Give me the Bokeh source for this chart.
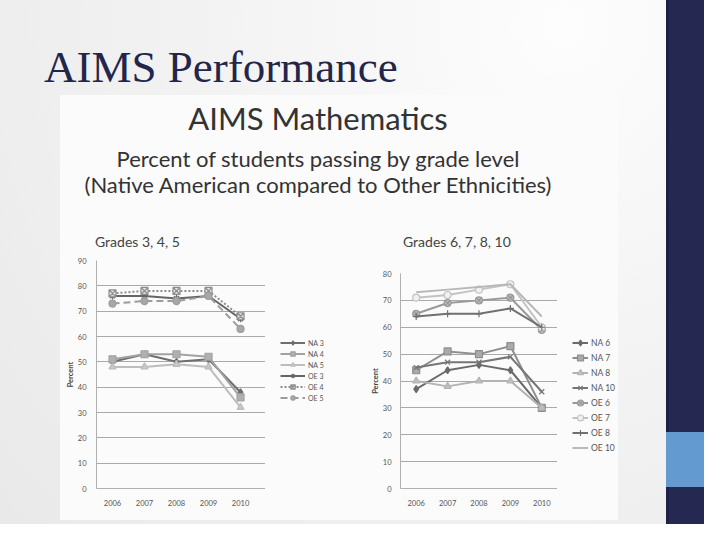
from bokeh.plotting import figure
from bokeh.models import Div, Spacer, Range1d, FixedTicker, Legend, LegendItem
from bokeh.layouts import row, column
from bokeh.embed import file_html
from bokeh.resources import INLINE

# ---------------- data ----------------
years = [2006, 2007, 2008, 2009, 2010]

# Grades 3, 4, 5
na3 = [50, 53, 50, 51, 38]
na4 = [51, 53, 53, 52, 36]
na5 = [48, 48, 49, 48, 32]
oe3 = [76, 76, 75, 76, 67]
oe4 = [77, 78, 78, 78, 68]
oe5 = [73, 74, 74, 76, 63]

# Grades 6, 7, 8, 10
na6 = [37, 44, 46, 44, 30]
na7 = [44, 51, 50, 53, 30]
na8 = [40, 38, 40, 40, 30]
na10 = [45, 47, 47, 49, 36]
oe6 = [65, 69, 70, 71, 59]
oe7 = [71, 72, 74, 76, 60]
oe8 = [64, 65, 65, 67, 60]
oe10 = [73, 74, 75, 76, 64]

left_labels = ["NA 3", "NA 4", "NA 5", "OE 3", "OE 4", "OE 5"]
right_labels = ["NA 6", "NA 7", "NA 8", "NA 10", "OE 6", "OE 7", "OE 8", "OE 10"]
left_ticks = [0, 10, 20, 30, 40, 50, 60, 70, 80, 90]
right_ticks = [0, 10, 20, 30, 40, 50, 60, 70, 80]

# styles: (color, dash, marker, fill)
left_styles = [
    ("#6e6e6e", "solid", "diamond", "#6e6e6e"),
    ("#a2a2a2", "solid", "square", "#b0b0b0"),
    ("#bdbdbd", "solid", "triangle", "#c8c8c8"),
    ("#666666", "solid", "asterisk", "#666666"),
    ("#8c8c8c", "2 2", "square_x", "#e0e0e0"),
    ("#9c9c9c", "7 4", "circle", "#a8a8a8"),
]
right_styles = [
    ("#6a6a6a", "solid", "diamond", "#6a6a6a"),
    ("#8e8e8e", "solid", "square", "#aaaaaa"),
    ("#b3b3b3", "solid", "triangle", "#c0c0c0"),
    ("#767676", "solid", "x", "#767676"),
    ("#999999", "solid", "circle_x", "#bbbbbb"),
    ("#c2c2c2", "solid", "circle", "#f0f0f0"),
    ("#707070", "solid", "cross", "#707070"),
    ("#b8b8b8", "solid", None, None),
]

SANS = "Lato"
PANEL = "#fbfbfb"


def add_series(p, xs, vals, col, dash, mk, fill, size=7):
    rs = [p.line(xs, vals, line_color=col, line_width=2, line_dash=dash)]
    if mk is not None:
        rs.append(p.scatter(xs, vals, marker=mk, size=size, line_color=col,
                            fill_color=fill, line_width=1.2))
    return rs


def make_chart(width, min_left, min_top, ymax, xmax, ticks, series, styles, tick_standoff):
    p = figure(width=width, height=268, output_backend="svg", toolbar_location=None,
               title=None, x_range=Range1d(2005.5, xmax), y_range=Range1d(0, ymax),
               min_border_left=min_left, min_border_right=0,
               min_border_top=min_top, min_border_bottom=32,
               background_fill_color=PANEL, border_fill_color=PANEL,
               outline_line_color=None)
    p.xgrid.grid_line_color = None
    p.ygrid.grid_line_color = "#a9a9a9"
    p.ygrid.grid_line_width = 1
    p.ygrid.ticker = FixedTicker(ticks=ticks)
    p.yaxis.ticker = FixedTicker(ticks=ticks)
    p.xaxis.ticker = FixedTicker(ticks=years)
    for ax in (p.xaxis, p.yaxis):
        ax.axis_line_color = "#b0b0b0"
        ax.major_tick_line_color = None
        ax.minor_tick_line_color = None
        ax.major_label_text_font = SANS
        ax.major_label_text_font_size = "7.5px"
        ax.major_label_text_color = "#555555"
    p.xaxis.major_label_standoff = 5
    p.yaxis.major_label_standoff = tick_standoff
    p.yaxis.axis_label = "Percent"
    p.yaxis.axis_label_text_font = SANS
    p.yaxis.axis_label_text_font_size = "7.5px"
    p.yaxis.axis_label_text_font_style = "bold"
    p.yaxis.axis_label_text_color = "#444444"
    p.yaxis.axis_label_standoff = 0
    for vals, (col, dash, mk, fill) in zip(series, styles):
        add_series(p, years, vals, col, dash, mk, fill)
    return p


def make_legend_fig(width, min_top, labels, series, styles, loc, font, item_h, glyph_w):
    # a narrow legend-only panel; the series are plotted outside its visible range
    lf = figure(width=width, height=268, output_backend="svg", toolbar_location=None,
                title=None, x_axis_type=None, y_axis_type=None,
                x_range=Range1d(0, 1), y_range=Range1d(0, 1),
                min_border_left=0, min_border_right=0,
                min_border_top=min_top, min_border_bottom=32,
                background_fill_color=PANEL, border_fill_color=PANEL,
                outline_line_color=None)
    items = []
    for lab, vals, (col, dash, mk, fill) in zip(labels, series, styles):
        rs = add_series(lf, years, vals, col, dash, mk, fill, size=6)
        items.append(LegendItem(label=lab, renderers=rs))
    leg = Legend(items=items, location=loc, padding=0, margin=0, spacing=0,
                 label_height=item_h, glyph_height=item_h, glyph_width=glyph_w,
                 label_standoff=3, border_line_color=None,
                 background_fill_alpha=0,
                 label_text_font=SANS, label_text_font_size=font,
                 label_text_color="#555555")
    lf.add_layout(leg)
    return lf


left_series = [na3, na4, na5, oe3, oe4, oe5]
right_series = [na6, na7, na8, na10, oe6, oe7, oe8, oe10]

p_left = make_chart(205, 36, 8, 90, 2010.78, left_ticks, left_series, left_styles, 4)
l_left = make_legend_fig(65, 8, left_labels, left_series, left_styles, (15, 85), "7px", 11, 25)
p_right = make_chart(227, 70, 21, 80, 2010.5, right_ticks, right_series, right_styles, 3)
l_right = make_legend_fig(61, 21, right_labels, right_series, right_styles, (15, 33), "8.5px", 15, 16)


def grade_title(text, width, pad_left):
    return Div(text=f'<div style="font-family:{SANS};font-size:14px;line-height:22px;'
                    f'color:#444;padding-left:{pad_left}px;padding-top:1px;white-space:nowrap">{text}</div>',
               width=width, height=22, margin=0, styles={"background-color": PANEL})


left_block = column(grade_title("Grades 3, 4, 5", 270, 35), row(p_left, l_left, spacing=0), spacing=0)
right_block = column(grade_title("Grades 6, 7, 8, 10", 288, 73), row(p_right, l_right, spacing=0), spacing=0)

header = Div(text=(
    f'<div style="width:516px;text-align:center;font-family:{SANS};color:#333333">'
    f'<div style="font-size:31px;line-height:32px;padding-top:7px;white-space:nowrap">AIMS Mathematics</div>'
    f'<div style="font-size:22px;line-height:26px;margin-top:12px;white-space:nowrap">'
    f'Percent of students passing by grade level<br>(Native American compared to Other Ethnicities)</div>'
    f'</div>'), width=558, height=135, margin=0, styles={"background-color": PANEL})

white_panel = column(header, row(left_block, right_block, spacing=0), spacing=0,
                     styles={"background-color": PANEL})

slide_title = Div(text=(
    '<div style="font-family:\'Liberation Serif\';font-size:45px;line-height:45px;'
    'color:#23264a;padding-left:44px;padding-top:45px;white-space:nowrap">AIMS Performance</div>'),
    width=666, height=95, margin=0)

mid = row(Spacer(width=60, height=425), white_panel, Spacer(width=48, height=425), spacing=0)
left_col = column(slide_title, mid, Spacer(width=666, height=4), spacing=0)

navy = "#252850"
side = column(
    Div(text="", width=38, height=432, margin=0,
        styles={"background-color": navy, "border-left": "3px solid #1e2146", "box-sizing": "border-box"}),
    Div(text="", width=38, height=55, margin=0, styles={"background-color": "#639bd0"}),
    Div(text="", width=38, height=37, margin=0,
        styles={"background-color": navy, "border-left": "3px solid #1e2146", "box-sizing": "border-box"}),
    spacing=0)

root = row(left_col, side, spacing=0,
           styles={"background": "radial-gradient(circle at 80% 5%, #fdfdfd 0%, #f3f3f3 45%, #e9e9e9 100%)"})

open("out.html", "w").write(file_html(root, INLINE))
